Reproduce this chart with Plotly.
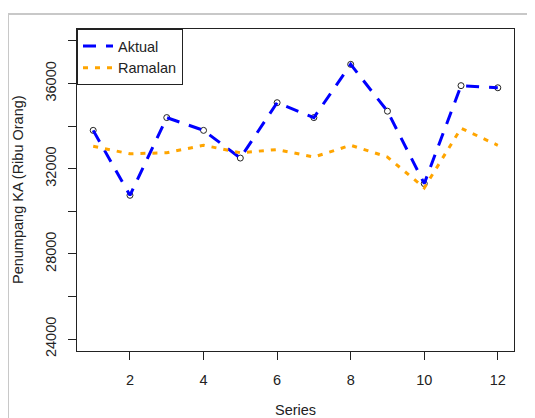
import plotly.graph_objects as go

series = list(range(1, 13))
aktual = [33800, 30750, 34400, 33800, 32500, 35100, 34400, 36900, 34700, 31300, 35900, 35800]
ramalan = [33050, 32700, 32750, 33100, 32750, 32900, 32550, 33100, 32550, 31100, 33900, 33100]
y_tickvals = [24000, 26000, 28000, 30000, 32000, 34000, 36000, 38000]
y_ticktext = ["24000", "", "28000", "", "32000", "", "36000", ""]
x_tickvals = [2, 4, 6, 8, 10, 12]

# page body has an 8px margin; compensate so the plot lands at reference pixels
OFF = 8
W, H = 535 - OFF, 418 - OFF
L, R, T, B = 77 - OFF, 21, 29 - OFF, 67
pw, ph = W - L - R, H - T - B

def px(x):
    return (x - OFF - L) / pw

def py(y):
    return (T + ph - (y - OFF)) / ph

font = dict(family="Liberation Sans, Arial, sans-serif", size=14.5, color="#222")

fig = go.Figure()
fig.add_trace(go.Scatter(x=series, y=aktual, mode="markers", showlegend=False,
                         marker=dict(symbol="circle-open", size=6, color="#222",
                                     line=dict(width=1, color="#222"))))
fig.add_trace(go.Scatter(x=series, y=aktual, mode="lines", name="Aktual",
                         line=dict(color="#0000ff", width=3, dash="13px,10px")))
fig.add_trace(go.Scatter(x=series, y=ramalan, mode="lines", name="Ramalan",
                         line=dict(color="#FFA500", width=3, dash="5px,7px")))

axis_common = dict(showline=True, linecolor="#222", linewidth=1, mirror=True,
                   ticks="outside", ticklen=8, tickcolor="#222", showgrid=False,
                   zeroline=False, tickfont=font)

fig.update_xaxes(range=[0.56, 12.44], tickvals=x_tickvals, ticklabelstandoff=8, **axis_common)
fig.update_yaxes(range=[23440, 38560], tickvals=y_tickvals, ticktext=y_ticktext,
                 tickangle=-90, ticklabelstandoff=6, **axis_common)

fig.update_layout(
    width=W, height=H,
    margin=dict(l=L, r=R, t=T, b=B),
    paper_bgcolor="white", plot_bgcolor="white",
    font=font,
    legend=dict(x=0, y=1, xanchor="left", yanchor="top", bgcolor="white",
                bordercolor="#222", borderwidth=1, font=font, tracegroupgap=0),
    shapes=[dict(type="rect", xref="paper", yref="paper",
                 x0=px(8), x1=px(545), y0=py(430), y1=py(14),
                 line=dict(color="#c8c8c8", width=2), layer="below")],
    annotations=[
        dict(text="Series", xref="paper", yref="paper", x=px(295), y=py(410),
             xanchor="center", yanchor="middle", showarrow=False, font=font),
        dict(text="Penumpang KA (Ribu Orang)", xref="paper", yref="paper",
             x=px(18), y=py(190), xanchor="center", yanchor="middle",
             textangle=-90, showarrow=False, font=font),
    ],
)

fig.write_html("out.html")
